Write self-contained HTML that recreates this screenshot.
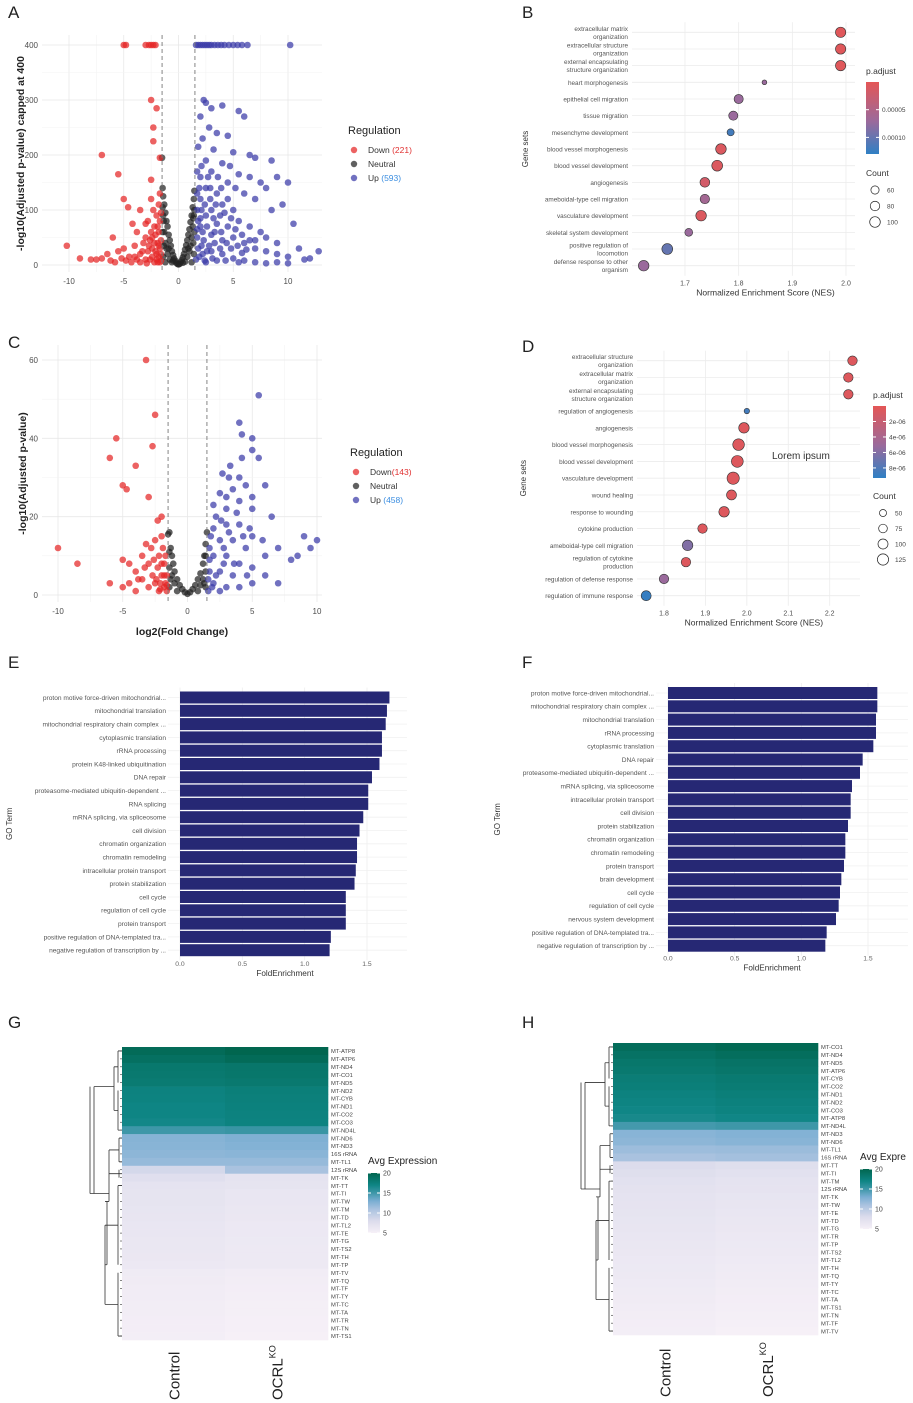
<!DOCTYPE html>
<html><head><meta charset="utf-8"><style>
body{margin:0;background:#fff;width:913px;height:1403px;overflow:hidden}
svg{display:block;font-family:"Liberation Sans",sans-serif}
</style></head><body>
<svg id="fig" width="913" height="1403" viewBox="0 0 913 1403" xmlns="http://www.w3.org/2000/svg"></svg>
<script>
// ---------- Panel A data ----------
const aDown=[[-10.2,35],[-9,12],[-8,10],[-7.5,10],[-7,12],[-7,200],[-6.5,20],[-6,50],[-5.5,165],[-5.5,25],[-5,120],[-5,30],[-4.6,105],[-4.5,15],[-4.2,75],[-4,15],[-3.8,60],[-3.5,100],[-3.5,20],[-3.2,40],[-3,50],[-3,10],[-2.8,80],[-2.8,25],[-2.6,10],[-2.5,120],[-2.5,155],[-2.5,60],[-2.4,30],[-2.3,250],[-2.3,225],[-2.2,40],[-2.2,5],[-2,90],[-2,285],[-2.5,300],[-2,20],[-1.9,5],[-1.9,70],[-1.8,60],[-1.8,110],[-1.7,195],[-1.7,30],[-1.6,20],[-1.6,8],[-1.6,45],[-1.7,130],[-3.5,5],[-4,35],[-2.6,45],[-2.1,55],[-1.8,15],[-3,75],[-2.3,100],[-4.8,8],[-5.8,5],[-5,400],[-4.8,400],[-3,400],[-2.7,400],[-2.5,400],[-2.3,400],[-2.1,400],[-1.7,80],[-1.9,40],[-2.1,25],[-2.4,15],[-2.7,35],[-3.3,25],[-2,10],[-1.7,5],[-2.2,70],[-1.6,95],[-3.8,10],[-4.3,5],[-5.2,12],[-6.2,8],[-2.9,3],[-1.8,35],[-2.4,50]];
const aNeutral=[[-1.5,195],[-1.45,140],[-1.4,125],[-1.3,110],[-1.2,95],[-1.1,80],[-1,70],[-0.9,55],[-0.8,45],[-0.7,35],[-0.6,25],[-0.5,18],[-0.4,12],[-0.3,8],[-0.2,4],[-0.1,2],[0,1],[0.1,2],[0.2,5],[0.3,9],[0.4,14],[0.5,20],[0.6,28],[0.7,36],[0.8,45],[0.9,55],[1,65],[1.1,78],[1.2,90],[1.3,105],[1.4,120],[1.45,135],[-1.3,60],[-1.2,40],[-1,20],[-0.8,10],[1,25],[1.2,50],[1.3,70],[1.4,90],[-1.4,90],[-1.1,30],[0.8,15],[1.1,35],[-0.6,5],[0.6,6],[-1.4,15],[1.4,20],[-1.2,5],[1.2,5],[-1.45,105],[-1.35,80],[-1.45,60],[-1.35,35],[1.35,40],[1.45,60],[1.45,100],[1.35,85],[-0.9,30],[0.9,30],[-0.5,8],[0.4,4]];
const aUp=[[1.6,400],[1.8,400],[2,400],[2.2,400],[2.4,400],[2.6,400],[2.8,400],[3,400],[3.3,400],[3.6,400],[3.9,400],[4.2,400],[4.6,400],[5,400],[5.4,400],[5.8,400],[6.3,400],[10.2,400],[2.3,300],[2.5,295],[3,285],[2,270],[4,290],[5.5,280],[6,270],[2.8,250],[3.5,240],[4.5,235],[2.2,230],[1.8,215],[3.2,210],[5,205],[6.5,200],[7,195],[8.5,190],[2.5,190],[4,185],[3,170],[2,160],[5.5,165],[6.5,160],[7.5,150],[9,160],[8,140],[10,150],[4.5,150],[2.5,140],[3.5,130],[6,130],[7,120],[9.5,110],[8.5,100],[10.5,75],[11,30],[12.8,25],[12,12],[11.5,10],[10,15],[9,20],[8,25],[7,30],[6,40],[7.5,60],[5,100],[4,110],[5.5,80],[6.5,70],[4.5,70],[3,100],[2,120],[1.7,100],[2.5,90],[3.5,75],[2,70],[1.7,50],[2.3,45],[3,55],[4,45],[5,50],[4,20],[3,25],[2.2,20],[1.6,10],[2.5,5],[3.5,8],[5,12],[6,8],[7,5],[8,3],[9,5],[10,3],[1.8,30],[2.8,35],[3.8,30],[4.8,30],[5.8,22],[2,85],[3.3,60],[1.9,140],[2.4,110],[3.8,90],[4.5,120],[5.2,140],[2.7,160],[3.6,160],[2.1,180],[1.7,170],[1.7,130],[1.8,80],[2.1,100],[2.2,60],[2.6,70],[2.9,120],[3.2,85],[3.4,110],[4.2,95],[4.8,85],[5.2,65],[5.8,55],[6.5,45],[7,45],[8,50],[9,40],[2.1,35],[2.6,25],[3.3,40],[3.9,60],[4.4,40],[5.4,35],[6.2,28],[1.9,15],[2.4,8],[3.1,12],[4.3,8],[5.5,5],[1.7,65],[2.9,140],[3.9,140],[4.7,180]];
const aXTicks=[-10,-5,0,5,10];
const aYTicks=[0,100,200,300,400];
// ---------- Panel C data ----------
const cDown=[[-10,12],[-8.5,8],[-6,35],[-5.5,40],[-5,28],[-4.7,27],[-4,33],[-3.2,60],[-3,25],[-2.5,46],[-2.7,38],[-2.3,19],[-2,20],[-2,15],[-5,9],[-4.5,8],[-4,6],[-3.5,10],[-3,8],[-2.8,12],[-2.5,14],[-2.2,10],[-2,5],[-1.8,8],[-1.7,3],[-2.5,3],[-3,2],[-4,1],[-5,2],[-6,3],[-3.5,4],[-2.2,1],[-1.6,1],[-1.9,12],[-2.3,7],[-1.8,2],[-2.7,5],[-3.2,13],[-1.6,5],[-2.1,3],[-1.7,10],[-2,8],[-2.4,4],[-1.8,5],[-2.6,9],[-3.8,4],[-4.5,3],[-1.6,2.5],[-2.1,1.5],[-3.3,7]];
const cNeutral=[[-1.4,16],[-1.3,12],[-1.2,10],[-1.1,8],[-1,6],[-0.8,4],[-0.6,2.5],[-0.4,1.5],[-0.2,0.7],[0,0.3],[0.2,0.7],[0.4,1.5],[0.6,2.5],[0.8,4],[1,5.5],[1.2,8],[1.3,10],[1.4,13],[-1.5,15.5],[1.5,16],[-1.2,5],[-1,3],[1,2.5],[1.2,4],[-1.4,7],[1.4,6],[-1.4,2],[1.4,2],[-0.8,1],[0.8,1],[-1.4,11],[1.4,10],[-1.3,4],[1.3,3]];
const cUp=[[5.5,51],[4,44],[4.2,41],[5,40],[5,37],[5.5,35],[2.7,31],[3.2,30],[4,30],[4.5,28],[3.5,27],[2.5,26],[3,25],[4,24],[5,25],[6,28],[2,23],[3,22],[5,22],[6.5,20],[9,15],[10,14],[8.5,10],[8,9],[9.5,12],[7,12],[6,10],[6,5],[7,3],[5,15],[4,18],[3,18],[2,17],[2.5,14],[3.5,14],[4.5,12],[1.7,12],[2,10],[3,10],[4,8],[5,7],[1.7,6],[2.5,6],[3.5,5],[2,3],[3,2],[1.6,1],[2.5,1],[4,2],[5,3],[1.8,15],[2.2,20],[3.8,21],[4.8,17],[2.8,8],[1.6,4],[5.8,14],[4.2,35],[3.3,33],[1.7,9],[2.2,5],[2.8,12],[3.2,16],[4.3,15],[1.9,2],[2.6,19],[3.6,8],[4.6,5]];
const cXTicks=[-10,-5,0,5,10];
const cYTicks=[0,20,40,60];
// ---------- Panel B data ----------
const bTerms=["extracellular matrix\norganization","extracellular structure\norganization","external encapsulating\nstructure organization","heart morphogenesis","epithelial cell migration","tissue migration","mesenchyme development","blood vessel morphogenesis","blood vessel development","angiogenesis","ameboidal-type cell migration","vasculature development","skeletal system development","positive regulation of\nlocomotion","defense response to other\norganism"];
const bNES=[1.99,1.99,1.99,1.848,1.80,1.79,1.785,1.767,1.76,1.737,1.737,1.73,1.707,1.667,1.623];
const bCount=[95,95,95,20,75,75,45,100,105,85,80,100,55,105,100];
const bPadj=[0.000005,0.000005,0.000005,0.00008,0.00008,0.00008,0.00012,0.00001,0.00001,0.00002,0.00007,0.00001,0.00008,0.000105,0.00008];
const bXTicks=[1.7,1.8,1.9,2.0];
// ---------- Panel D data ----------
const dTerms=["extracellular structure\norganization","extracellular matrix\norganization","external encapsulating\nstructure organization","regulation of angiogenesis","angiogenesis","blood vessel morphogenesis","blood vessel development","vasculature development","wound healing","response to wounding","cytokine production","ameboidal-type cell migration","regulation of cytokine\nproduction","regulation of defense response","regulation of immune response"];
const dNES=[2.255,2.245,2.245,2.0,1.993,1.98,1.977,1.967,1.963,1.945,1.893,1.857,1.853,1.8,1.757];
const dCount=[90,90,90,30,110,135,140,150,100,110,90,110,90,90,100];
const dPadj=[5e-7,5e-7,5e-7,8.5e-6,5e-7,5e-7,5e-7,5e-7,5e-7,5e-7,5e-7,6e-6,5e-7,5e-6,9e-6];
const dXTicks=[1.8,1.9,2.0,2.1,2.2];
// ---------- Panel E / F data ----------
const eTerms=["proton motive force-driven mitochondrial...","mitochondrial translation","mitochondrial respiratory chain complex ...","cytoplasmic translation","rRNA processing","protein K48-linked ubiquitination","DNA repair","proteasome-mediated ubiquitin-dependent ...","RNA splicing","mRNA splicing, via spliceosome","cell division","chromatin organization","chromatin remodeling","intracellular protein transport","protein stabilization","cell cycle","regulation of cell cycle","protein transport","positive regulation of DNA-templated tra...","negative regulation of transcription by ..."];
const eFold=[1.68,1.66,1.65,1.62,1.62,1.60,1.54,1.51,1.51,1.47,1.44,1.42,1.42,1.41,1.40,1.33,1.33,1.33,1.21,1.20];
const fTerms=["proton motive force-driven mitochondrial...","mitochondrial respiratory chain complex ...","mitochondrial translation","rRNA processing","cytoplasmic translation","DNA repair","proteasome-mediated ubiquitin-dependent ...","mRNA splicing, via spliceosome","intracellular protein transport","cell division","protein stabilization","chromatin organization","chromatin remodeling","protein transport","brain development","cell cycle","regulation of cell cycle","nervous system development","positive regulation of DNA-templated tra...","negative regulation of transcription by ..."];
const fFold=[1.57,1.57,1.56,1.56,1.54,1.46,1.44,1.38,1.37,1.37,1.35,1.33,1.33,1.32,1.30,1.29,1.28,1.26,1.19,1.18];
const barTicks=[0,0.5,1.0,1.5];
// ---------- Panel G / H data ----------
const gGenes=["MT-ATP8","MT-ATP6","MT-ND4","MT-CO1","MT-ND5","MT-ND2","MT-CYB","MT-ND1","MT-CO2","MT-CO3","MT-ND4L","MT-ND6","MT-ND3","16S rRNA","MT-TL1","12S rRNA","MT-TK","MT-TT","MT-TI","MT-TW","MT-TM","MT-TD","MT-TL2","MT-TE","MT-TG","MT-TS2","MT-TH","MT-TP","MT-TV","MT-TQ","MT-TF","MT-TY","MT-TC","MT-TA","MT-TR","MT-TN","MT-TS1"];
const gControl=[19.5,19,18.3,18.2,18,17.3,17.2,17,17,16.8,15,12.5,12.4,12.2,11.8,8.5,7.5,7,6.8,6.8,6.7,6.6,6.5,6.5,6.4,6.4,6.3,6.2,5.8,5.7,5.6,5.6,5.5,5.5,5.4,5.4,5.3];
const gOcrl=[20,19.5,18.5,18.4,18.2,17.6,17.5,17.4,17.3,17.2,15.2,12.8,12.6,12.3,11.8,11,7,6.8,6.5,6.5,6.4,6.3,6.2,6.2,6.1,6,6,6,5.6,5.5,5.4,5.3,5.2,5.2,5.1,5.1,5];
const hGenes=["MT-CO1","MT-ND4","MT-ND5","MT-ATP6","MT-CYB","MT-CO2","MT-ND1","MT-ND2","MT-CO3","MT-ATP8","MT-ND4L","MT-ND3","MT-ND6","MT-TL1","16S rRNA","MT-TT","MT-TI","MT-TM","12S rRNA","MT-TK","MT-TW","MT-TE","MT-TD","MT-TG","MT-TR","MT-TP","MT-TS2","MT-TL2","MT-TH","MT-TQ","MT-TY","MT-TC","MT-TA","MT-TS1","MT-TN","MT-TF","MT-TV"];
const hControl=[19.3,18.8,18.4,18.2,17.8,17.6,17.3,17.1,16.9,16.6,14.8,12.4,12.2,11.5,11,8,7.6,7.3,7.1,7,6.9,6.8,6.7,6.6,6.5,6.4,6.3,6.2,6.1,6,5.9,5.8,5.7,5.6,5.5,5.4,5.3];
const hOcrl=[19.7,19.2,18.7,18.5,18.1,17.9,17.6,17.4,17.2,16.9,15,12.6,12.4,11.6,11.2,7.6,7.3,7,6.9,6.7,6.6,6.5,6.4,6.3,6.2,6.1,6,5.9,5.8,5.7,5.6,5.5,5.4,5.3,5.2,5.1,5];
const heatTicks=[20,15,10,5];

const NS="http://www.w3.org/2000/svg";
const svg=document.getElementById('fig');
function mk(tag,attrs,parent){const e=document.createElementNS(NS,tag);for(const k in attrs)e.setAttribute(k,attrs[k]);(parent||svg).appendChild(e);return e;}
function txt(x,y,s,size,attrs,parent){const t=mk('text',Object.assign({x:x,y:y,'font-size':size,fill:'#4d4d4d'},attrs||{}),parent);t.textContent=s;return t;}
function lin(a,b,c,d){return v=>c+(v-a)*(d-c)/(b-a);}
function hex(c){return [parseInt(c.slice(1,3),16),parseInt(c.slice(3,5),16),parseInt(c.slice(5,7),16)];}
function ramp(stops,v){if(v<=stops[0][0])return stops[0][1];for(let i=1;i<stops.length;i++){if(v<=stops[i][0]){const t=(v-stops[i-1][0])/(stops[i][0]-stops[i-1][0]);const a=hex(stops[i-1][1]),b=hex(stops[i][1]);return 'rgb('+a.map((x,j)=>Math.round(x+(b[j]-x)*t)).join(',')+')';}}return stops[stops.length-1][1];}

// panel letters
[['A',8,18],['B',522,18],['C',8,348],['D',522,352],['E',8,668],['F',522,668],['G',8,1028],['H',522,1028]].forEach(p=>{
  const t=txt(p[1],p[2],p[0],17,{fill:'#222'});
  
  
});

// ---------- volcano ----------
function volcano(cfg){
  const g=mk('g',{});
  
  
  const X=lin(cfg.xd[0],cfg.xd[1],cfg.xr[0],cfg.xr[1]), Y=lin(cfg.yd[0],cfg.yd[1],cfg.yr[0],cfg.yr[1]);
  cfg.xt.forEach((v,i)=>{mk('line',{x1:X(v),x2:X(v),y1:cfg.top,y2:cfg.bot,stroke:'#e8e8e8','stroke-width':0.8},g);
    if(i<cfg.xt.length-1){const m=(v+cfg.xt[i+1])/2;mk('line',{x1:X(m),x2:X(m),y1:cfg.top,y2:cfg.bot,stroke:'#f3f3f3','stroke-width':0.6},g);}
    const t=txt(X(v),cfg.bot+12,String(v),8,{'text-anchor':'middle'},g);
    
    });
  cfg.yt.forEach((v,i)=>{mk('line',{x1:cfg.left,x2:cfg.right,y1:Y(v),y2:Y(v),stroke:'#e8e8e8','stroke-width':0.8},g);
    if(i<cfg.yt.length-1){const m=(v+cfg.yt[i+1])/2;mk('line',{x1:cfg.left,x2:cfg.right,y1:Y(m),y2:Y(m),stroke:'#f3f3f3','stroke-width':0.6},g);}
    const t=txt(cfg.left-4,Y(v)+3,String(v),8,{'text-anchor':'end'},g);
    
    });
  const groups=[[cfg.neutral,'rgba(35,35,35,0.72)','neutral-point'],[cfg.down,'rgba(228,38,38,0.72)','down-point'],[cfg.up,'rgba(58,58,168,0.72)','up-point']];
  groups.forEach(gr=>gr[0].forEach(p=>{const c=mk('circle',{cx:X(p[0]),cy:Y(p[1]),r:3.3,fill:gr[1]},g);
    
    }));
  [-1.5,1.5].forEach(v=>{const l=mk('line',{x1:X(v),x2:X(v),y1:cfg.top,y2:cfg.bot,stroke:'#777','stroke-width':0.9,'stroke-dasharray':'4,3'},g);
    
    });
  const yt=txt(0,0,cfg.ytitle,10.5,{'font-weight':'bold',fill:'#222','text-anchor':'middle',transform:'translate('+cfg.ytx+','+((cfg.top+cfg.bot)/2)+') rotate(-90)'},g);
  
  
  if(cfg.xtitle){const xt=txt((cfg.left+cfg.right)/2,cfg.bot+33,cfg.xtitle,10.5,{'font-weight':'bold',fill:'#222','text-anchor':'middle'},g);
    
    }
  const L=cfg.leg;
  const lt=txt(L[0],L[1],'Regulation',11,{fill:'#222'},g);
  
  
  [['Down','rgba(228,38,38,0.72)',cfg.labels[0],'#e03030'],['Neutral','rgba(35,35,35,0.72)','',''],['Up','rgba(58,58,168,0.72)',cfg.labels[1],'#3a8de0']].forEach((e,i)=>{
    const yy=L[1]+19+i*cfg.lstep;
    const c=mk('circle',{cx:L[0]+6,cy:yy-3,r:3.2,fill:e[1]},g);
    
    
    const t=txt(L[0]+20,yy,e[0],8.5,{fill:'#333'},g);
    if(e[2]){const s=mk('tspan',{fill:e[3]},t);s.textContent=e[2];}
    
    
  });
}
volcano({name:'volcano-plot-a',xd:[-10,10],xr:[69,288],yd:[0,400],yr:[265,45],left:42,right:322,top:35,bot:272,xt:aXTicks,yt:aYTicks,down:aDown,neutral:aNeutral,up:aUp,ytitle:'-log10(Adjusted p-value) capped at 400',ytx:24,leg:[348,134],lstep:14,labels:[' (221)',' (593)']});
volcano({name:'volcano-plot-c',xd:[-10,10],xr:[58,317],yd:[0,60],yr:[595,360],left:42,right:322,top:345,bot:602,xt:cXTicks,yt:cYTicks,down:cDown,neutral:cNeutral,up:cUp,ytitle:'-log10(Adjusted p-value)',ytx:26,xtitle:'log2(Fold Change)',leg:[350,456],lstep:14,labels:['(143)',' (458)']});

// ---------- dot plots ----------
function dotplot(cfg){
  const g=mk('g',{});
  
  
  const X=lin(cfg.xd[0],cfg.xd[1],cfg.xr[0],cfg.xr[1]);
  const n=cfg.terms.length, Y=i=>cfg.y0+i*(cfg.y1-cfg.y0)/(n-1);
  cfg.xt.forEach((v,i)=>{mk('line',{x1:X(v),x2:X(v),y1:cfg.y0-10,y2:cfg.y1+10,stroke:'#ececec','stroke-width':0.8},g);
    const t=txt(X(v),cfg.y1+20,v.toFixed(1),7,{'text-anchor':'middle'},g);
    
    });
  cfg.terms.forEach((s,i)=>{mk('line',{x1:cfg.lx+4,x2:cfg.gx,y1:Y(i),y2:Y(i),stroke:'#ececec','stroke-width':0.8},g);
    const parts=s.split('\n');
    parts.forEach((p,j)=>{const t=txt(cfg.lx,Y(i)+2.5+(j-(parts.length-1)/2)*8,p,6.4,{'text-anchor':'end',fill:'#555'},g);
      
      });
  });
  const col=p=>ramp(cfg.stops,p);
  cfg.terms.forEach((s,i)=>{const c=mk('circle',{cx:X(cfg.nes[i]),cy:Y(i),r:cfg.rs(cfg.count[i]),fill:col(cfg.padj[i]),stroke:'#333','stroke-width':0.6},g);
    
    });
  const xt=txt((cfg.xr[0]+cfg.xr[1])/2+cfg.xtoff,cfg.y1+30,'Normalized Enrichment Score (NES)',8.5,{fill:'#333','text-anchor':'middle'},g);
  
  
  const yt=txt(0,0,'Gene sets',8,{fill:'#333','text-anchor':'middle',transform:'translate('+cfg.ytx+','+((cfg.y0+cfg.y1)/2)+') rotate(-90)'},g);
  
  
  const L=cfg.leg;
  const pt=txt(L[0],L[1],'p.adjust',8.5,{fill:'#333'},g);
  
  
  const gid=cfg.name+'-grad';
  const defs=mk('defs',{},g);const lg=mk('linearGradient',{id:gid,x1:0,y1:0,x2:0,y2:1},defs);
  mk('stop',{offset:'0%','stop-color':cfg.stops[0][1]},lg);mk('stop',{offset:'55%','stop-color':cfg.stops[1][1]},lg);mk('stop',{offset:'100%','stop-color':cfg.stops[2][1]},lg);
  const bar=mk('rect',{x:L[0],y:L[1]+8,width:13,height:cfg.barh,fill:'url(#'+gid+')'},g);
  
  
  cfg.ptk.forEach(k=>{const yy=L[1]+8+cfg.barh*(k[0]-cfg.stops[0][0])/(cfg.stops[2][0]-cfg.stops[0][0]);
    mk('line',{x1:L[0],x2:L[0]+3,y1:yy,y2:yy,stroke:'#fff'},g);mk('line',{x1:L[0]+10,x2:L[0]+13,y1:yy,y2:yy,stroke:'#fff'},g);
    const t=txt(L[0]+16,yy+2.5,k[1],6.5,{fill:'#444'},g);
    
    });
  const ct=txt(L[0],cfg.cy,'Count',8.5,{fill:'#333'},g);
  
  
  cfg.ctk.forEach((v,i)=>{const yy=cfg.cy+14+i*cfg.cstep;
    const c=mk('circle',{cx:L[0]+cfg.cdx,cy:yy,r:cfg.rs(v),fill:'none',stroke:'#222','stroke-width':0.7},g);
    
    
    const t=txt(L[0]+cfg.cdx+12,yy+2.5,String(v),6.5,{fill:'#444'},g);
    
    });
}
dotplot({name:'dotplot-b',terms:bTerms,nes:bNES,count:bCount,padj:bPadj,xd:[1.7,2.0],xr:[685,846],xt:bXTicks,y0:32.3,y1:265.7,lx:628,gx:855,xtoff:0,ytx:528,
  stops:[[0,'#e45656'],[0.00008,'#9a6a9c'],[0.00013,'#2f80c4']],rs:c=>Math.sqrt(c)*0.53,leg:[866,74],barh:72,ptk:[[0.00005,'0.00005'],[0.0001,'0.00010']],cy:176,ctk:[60,80,100],cstep:16,cdx:9});
dotplot({name:'dotplot-d',terms:dTerms,nes:dNES,count:dCount,padj:dPadj,xd:[1.8,2.2],xr:[664,829.7],xt:dXTicks,y0:360.7,y1:595.7,lx:633,gx:860,xtoff:7,ytx:526,
  stops:[[0,'#e45656'],[5e-6,'#9a6a9c'],[9.3e-6,'#2f80c4']],rs:c=>Math.max(2,Math.sqrt(c)*0.5),leg:[873,398],barh:72,ptk:[[2e-6,'2e-06'],[4e-6,'4e-06'],[6e-6,'6e-06'],[8e-6,'8e-06']],cy:499,ctk:[50,75,100,125],cstep:15.5,cdx:10});
{const t=txt(772,459,'Lorem ipsum',10,{fill:'#333'});

}

// ---------- bar charts ----------
function barplot(cfg){
  const g=mk('g',{});
  
  
  const X=lin(0,1.5,cfg.x0,cfg.x15);
  const n=cfg.terms.length, Y=i=>cfg.y0+i*cfg.step;
  barTicks.forEach(v=>{mk('line',{x1:X(v),x2:X(v),y1:cfg.y0-10,y2:Y(n-1)+10,stroke:'#eeeeee','stroke-width':0.8},g);
    const t=txt(X(v),Y(n-1)+cfg.tickdy,v.toFixed(1),6.8,{'text-anchor':'middle',fill:'#666'},g);
    
    });
  cfg.terms.forEach((s,i)=>{mk('line',{x1:cfg.x0-12,x2:cfg.x15+40,y1:Y(i),y2:Y(i),stroke:'#f0f0f0','stroke-width':0.8},g);
    const t=txt(cfg.x0-14,Y(i)+2.4,s,6.6,{'text-anchor':'end',fill:'#555'},g);
    
    
    const r=mk('rect',{x:X(0),y:Y(i)-6,width:X(cfg.vals[i])-X(0),height:12,fill:'#262874'},g);
    
    });
  const xt=txt(cfg.xtx,Y(n-1)+cfg.tickdy+10,'FoldEnrichment',8.2,{'text-anchor':'middle',fill:'#333'},g);
  
  
  const yt=txt(0,0,'GO Term',8,{fill:'#333','text-anchor':'middle',transform:'translate('+cfg.ytx+','+(cfg.y0+Y(n-1))/2+') rotate(-90)'},g);
  
  
}
barplot({name:'barchart-e',terms:eTerms,vals:eFold,x0:180,x15:367,y0:697.5,step:13.3,tickdy:16,xtx:285,ytx:12});
barplot({name:'barchart-f',terms:fTerms,vals:fFold,x0:668,x15:868,y0:693,step:13.3,tickdy:15,xtx:772,ytx:500});

// ---------- heatmaps ----------
const heatStops=[[5,'#f6f0f7'],[8,'#dcdcec'],[11,'#a9c2df'],[13,'#7aaed2'],[15,'#3e97a8'],[17,'#0e8584'],[20,'#01664f']];
function heatmap(cfg){
  const g=mk('g',{});
  
  
  const n=cfg.genes.length, rh=(cfg.y1-cfg.y0)/n, cw=(cfg.x1-cfg.x0)/2;
  cfg.genes.forEach((gn,i)=>{
    [cfg.ctrl[i],cfg.ko[i]].forEach((v,j)=>{const r=mk('rect',{x:cfg.x0+j*cw,y:cfg.y0+i*rh,width:cw+0.3,height:rh+0.3,fill:ramp(heatStops,v)},g);
      
      });
    const t=txt(cfg.x1+3,cfg.y0+i*rh+rh/2+2.2,gn,5.8,{fill:'#444'},g);
    
    
  });
  const Yc=i=>cfg.y0+(i+0.5)*rh;
  const d=cfg.x0;
  const path=['M',d-4,Yc(0),'H',d,'M',d-4,Yc(10),'H',d,
    'M',d-4,Yc(0),'V',Yc(4),'M',d-4,Yc(5),'V',Yc(10),
    'M',d-8,Yc(2),'H',d-4,'M',d-8,Yc(7.5),'H',d-4,'M',d-8,Yc(2),'V',Yc(7.5),
    'M',d-28,Yc(4.5),'H',d-8,
    'M',d-3,Yc(11),'H',d,'M',d-3,Yc(14),'H',d,'M',d-3,Yc(11),'V',Yc(14),
    'M',d-3,Yc(15),'V',Yc(16),'M',d-5,Yc(15.5),'H',d,
    'M',d-4,Yc(17),'V',Yc(27),'M',d-4,Yc(28),'V',Yc(36),'M',d-4,Yc(17),'H',d,'M',d-4,Yc(36),'H',d,
    'M',d-17,Yc(22),'H',d-4,'M',d-17,Yc(32),'H',d-4,'M',d-17,Yc(22),'V',Yc(32),
    'M',d-17,Yc(27),'H',d-15,'M',d-5,Yc(15.5),'H',d-13,
    'M',d-13,Yc(12.5),'H',d-3,'M',d-13,Yc(12.5),'V',Yc(19),'M',d-15,Yc(19),'V',Yc(27),
    'M',d-13,Yc(19),'H',d-17,
    'M',d-28,Yc(4.5),'V',Yc(18),'M',d-32,Yc(18),'H',d-13,
    'M',d-32,Yc(4.5),'V',Yc(18)].join(' ');
  const dp=mk('path',{d:path,fill:'none',stroke:'#333','stroke-width':0.8},g);
  
  
  for(let i=0;i<n;i++){mk('line',{x1:d-2,x2:d,y1:Yc(i),y2:Yc(i),stroke:'#333','stroke-width':0.6},g);}
  const c1=txt(0,0,'Control',15,{fill:'#222',transform:'translate('+(cfg.x0+cw/2+6)+','+cfg.lbly+') rotate(-90)'},g);
  
  
  const c2=txt(0,0,'OCRL',15,{fill:'#222',transform:'translate('+(cfg.x0+1.5*cw+6)+','+cfg.lbly+') rotate(-90)'},g);
  const sup=mk('tspan',{'font-size':9,dy:-7},c2);sup.textContent='KO';
  
  
  const L=cfg.leg;
  const lt=txt(L[0],L[1],cfg.legtitle,10,{fill:'#222'},g);
  
  
  const gid=cfg.name+'-grad';
  const defs=mk('defs',{},g);const lg=mk('linearGradient',{id:gid,x1:0,y1:0,x2:0,y2:1},defs);
  heatStops.slice().reverse().forEach(s=>mk('stop',{offset:((20-s[0])/15*100)+'%','stop-color':s[1]},lg));
  const bar=mk('rect',{x:L[0],y:L[1]+9,width:12,height:60,fill:'url(#'+gid+')'},g);
  
  
  heatTicks.forEach(v=>{const yy=L[1]+9+60*(20-v)/15;
    mk('line',{x1:L[0],x2:L[0]+3,y1:yy,y2:yy,stroke:'#fff'},g);mk('line',{x1:L[0]+9,x2:L[0]+12,y1:yy,y2:yy,stroke:'#fff'},g);
    const t=txt(L[0]+15,yy+2.5,String(v),7,{fill:'#444'},g);
    
    });
}
heatmap({name:'heatmap-g',genes:gGenes,ctrl:gControl,ko:gOcrl,x0:122,x1:328,y0:1047,y1:1340,lbly:1400,leg:[368,1164],legtitle:'Avg Expression'});
heatmap({name:'heatmap-h',genes:hGenes,ctrl:hControl,ko:hOcrl,x0:613,x1:818,y0:1043,y1:1335,lbly:1397,leg:[860,1160],legtitle:'Avg Expre'});
</script>
</body></html>
